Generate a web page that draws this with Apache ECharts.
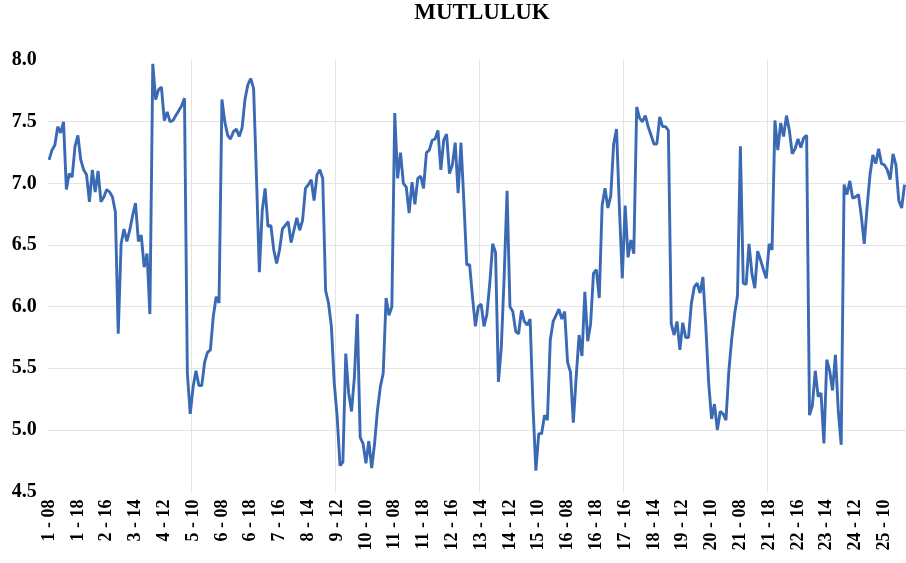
<!DOCTYPE html>
<html>
<head>
<meta charset="utf-8">
<script src="https://cdn.jsdelivr.net/npm/echarts@6/dist/echarts.min.js"></script>
<style>
html,body{margin:0;padding:0;background:#fff;}
#chart{width:906px;height:563px;}
</style>
</head>
<body>
<div id="chart"></div>
<script>
const title = 'MUTLULUK';
const days = [1,2,3,4,5,6,7,8,9,10,11,12,13,14,15,16,17,18,19,20,21,22,23,24,25];
const hours = ['08','09','10','11','12','13','14','15','16','17','18','19'];
const mutluluk = [
7.19,7.27,7.31,7.46,7.41,7.50,6.95,7.08,7.05,7.30,
7.39,7.19,7.11,7.07,6.85,7.11,6.93,7.10,6.85,6.89,
6.95,6.93,6.89,6.77,5.78,6.51,6.63,6.53,6.62,6.74,
6.84,6.53,6.58,6.32,6.43,5.94,7.97,7.68,7.76,7.78,
7.51,7.58,7.50,7.51,7.55,7.59,7.63,7.69,5.46,5.13,
5.35,5.48,5.36,5.36,5.55,5.63,5.65,5.92,6.08,6.03,
7.68,7.50,7.39,7.36,7.42,7.44,7.38,7.45,7.68,7.80,
7.85,7.77,7.05,6.28,6.78,6.96,6.65,6.66,6.46,6.35,
6.46,6.63,6.66,6.69,6.52,6.62,6.72,6.62,6.70,6.96,
6.99,7.03,6.86,7.07,7.11,7.04,6.13,6.03,5.84,5.38,
5.11,4.71,4.74,5.62,5.30,5.15,5.43,5.94,4.94,4.89,
4.73,4.91,4.69,4.89,5.16,5.35,5.46,6.07,5.93,6.00,
7.57,7.04,7.25,7.00,6.97,6.76,7.01,6.83,7.04,7.06,
6.96,7.25,7.27,7.35,7.36,7.43,7.11,7.35,7.40,7.08,
7.15,7.33,6.92,7.33,6.85,6.34,6.34,6.08,5.84,6.00,
6.02,5.84,5.94,6.19,6.51,6.44,5.39,5.67,6.25,6.94,
6.00,5.96,5.80,5.78,5.97,5.88,5.85,5.90,5.19,4.67,
4.97,4.97,5.12,5.08,5.73,5.88,5.93,5.98,5.90,5.96,
5.55,5.47,5.06,5.43,5.77,5.60,6.12,5.72,5.86,6.27,
6.30,6.07,6.82,6.96,6.80,6.90,7.32,7.44,6.80,6.23,
6.82,6.40,6.54,6.43,7.62,7.53,7.50,7.55,7.46,7.39,
7.32,7.32,7.54,7.46,7.46,7.43,5.86,5.77,5.88,5.65,
5.87,5.75,5.75,6.03,6.16,6.19,6.11,6.24,5.84,5.38,
5.09,5.21,5.00,5.15,5.13,5.08,5.48,5.74,5.94,6.09,
7.30,6.19,6.18,6.51,6.27,6.15,6.45,6.38,6.30,6.23,
6.51,6.46,7.51,7.27,7.49,7.38,7.55,7.43,7.24,7.28,
7.36,7.29,7.37,7.39,5.12,5.20,5.48,5.27,5.30,4.89,
5.57,5.48,5.32,5.61,5.15,4.88,6.99,6.91,7.02,6.88,
6.89,6.91,6.73,6.51,6.81,7.07,7.23,7.16,7.28,7.16,
7.15,7.11,7.03,7.24,7.15,6.86,6.80,6.99
];
const yMin = 4.5, yMax = 8.0, yStep = 0.5;

const allCats = [];
days.forEach(d => hours.forEach(h => allCats.push(d + ' - ' + h)));
const categories = allCats.slice(0, mutluluk.length);

const chart = echarts.init(document.getElementById('chart'), null, {renderer: 'canvas'});
const serif = '"Liberation Serif", "Times New Roman", serif';
chart.setOption({
  animation: false,
  backgroundColor: '#ffffff',
  title: {
    text: title,
    left: 477, textAlign: 'center', top: -3,
    textStyle: {fontFamily: serif, fontWeight: 'bold', fontSize: 23, color: '#000'}
  },
  grid: {left: 47.66, right: -1, top: 60.1, bottom: 71.4, containLabel: false},
  xAxis: {
    type: 'category',
    data: categories,
    boundaryGap: true,
    axisLine: {show: false},
    axisTick: {show: false},
    axisLabel: {
      interval: 9, rotate: 90, margin: 8,
      fontFamily: serif, fontWeight: 'bold', fontSize: 18, color: '#000'
    },
    splitLine: {
      show: true,
      interval: function (idx) { return idx > 0 && idx % 50 === 0; },
      lineStyle: {color: '#e4e4e4', width: 1}
    }
  },
  yAxis: {
    type: 'value',
    min: yMin, max: yMax, interval: yStep,
    axisLine: {show: false},
    axisTick: {show: false},
    axisLabel: {
      margin: 11,
      formatter: v => v.toFixed(1),
      fontFamily: serif, fontWeight: 'bold', fontSize: 20, color: '#000'
    },
    splitLine: {show: true, showMinLine: false, showMaxLine: false, lineStyle: {color: '#e4e4e4', width: 1}}
  },
  series: [{
    type: 'line',
    data: mutluluk,
    showSymbol: false,
    symbol: 'none',
    lineStyle: {color: '#3a6ab4', width: 2.9},
    itemStyle: {color: '#3a6ab4'}
  }]
});
</script>
</body>
</html>
